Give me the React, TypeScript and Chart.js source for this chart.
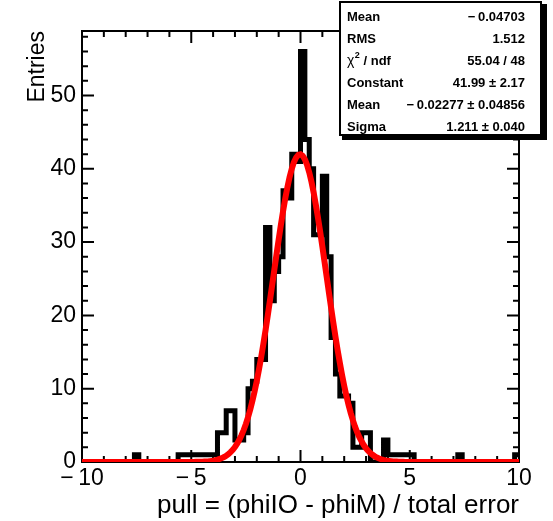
import React, { useEffect, useRef } from 'react';
import { Chart, registerables } from 'chart.js';

Chart.register(...registerables);

// ---- Histogram definition (100 bins of 0.2 from -10 to 10) ----
const X_MIN = -10;
const X_MAX = 10;
const BIN_WIDTH = 0.2;
const binCounts: number[] = [
  0, 0, 0, 0, 0, 0, 0, 0, 0, 0, // -10.0 .. -8.2
  0, 0, 1, 0, 0, 0, 0, 0, 0, 0, //  -8.0 .. -6.2
  0, 0, 1, 1, 1, 1, 1, 1, 1, 1, //  -6.0 .. -4.2
  1, 4, 4, 7, 7, 3, 3, 4, 10, 11, // -4.0 .. -2.2
  14, 14, 32, 22, 26, 28, 37, 36, 42, 41, // -2.0 .. -0.2
  56, 44, 40, 31, 31, 39, 28, 17, 12, 9, //  0.0 ..  1.8
  9, 8, 2, 2, 4, 4, 0, 0, 0, 3, //  2.0 ..  3.8
  1, 1, 1, 1, 1, 1, 0, 0, 0, 0, //  4.0 ..  5.8
  0, 0, 0, 0, 0, 0, 1, 0, 0, 0, //  6.0 ..  7.8
  0, 0, 0, 0, 0, 0, 0, 0, 0, 1, //  8.0 ..  9.8
];

// ---- Gaussian fit parameters (from the stats box) ----
const fitConstant = 41.99;
const fitMean = -0.02277;
const fitSigma = 1.211;
const fitSamples = 200;

// ---- Axes ----
const xMajorTicks = [-10, -5, 0, 5, 10];
const xMinorStep = 1;
const yMajorTicks = [0, 10, 20, 30, 40, 50];
const yMinorStep = 2;
const Y_MAX = 58.8;

const xTitle = 'pull = (phiIO - phiM) / total error';
const yTitle = 'Entries';

// ---- Stats box ----
const statNames = ['Mean', 'RMS', 'CHI', 'Constant', 'Mean', 'Sigma'];
const statValues = [
  '\u2212\u20090.04703',
  '1.512',
  '55.04 / 48',
  '41.99 \u00b1 2.17',
  '\u2212\u20090.02277 \u00b1 0.04856',
  '1.211 \u00b1 0.040',
];

const FONT = '"Liberation Sans", Arial, Helvetica, sans-serif';

const fmt = (v: number) => (v < 0 ? '\u2212\u2009' + Math.abs(v) : String(v));

const framePlugin = {
  id: 'rootFrame',
  beforeDatasetsDraw(chart: any) {
    const { ctx, chartArea, scales } = chart;
    const { left, right, top, bottom } = chartArea;
    const xs = scales.x;
    const ys = scales.y;
    ctx.save();
    ctx.strokeStyle = '#000';
    ctx.lineWidth = 2;
    ctx.strokeRect(left, top, right - left, bottom - top);
    ctx.beginPath();
    for (let v = X_MIN; v <= X_MAX + 1e-9; v += xMinorStep) {
      const px = xs.getPixelForValue(v);
      const len = xMajorTicks.includes(Math.round(v)) ? 12 : 6;
      ctx.moveTo(px, bottom);
      ctx.lineTo(px, bottom - len);
      ctx.moveTo(px, top);
      ctx.lineTo(px, top + len);
    }
    for (let v = 0; v <= Y_MAX + 1e-9; v += yMinorStep) {
      const py = ys.getPixelForValue(v);
      const len = yMajorTicks.includes(Math.round(v)) ? 12 : 6;
      ctx.moveTo(left, py);
      ctx.lineTo(left + len, py);
      ctx.moveTo(right, py);
      ctx.lineTo(right - len, py);
    }
    ctx.stroke();
    ctx.restore();
  },
};

const statsPlugin = {
  id: 'statsBox',
  afterDraw(chart: any) {
    const { ctx } = chart;
    ctx.save();
    ctx.fillStyle = '#000';
    ctx.fillRect(342, 4, 205, 136);
    ctx.fillStyle = '#fff';
    ctx.fillRect(339, 1, 203, 135);
    ctx.strokeStyle = '#000';
    ctx.lineWidth = 2;
    ctx.strokeRect(340, 2, 201, 133);
    ctx.fillStyle = '#000';
    ctx.textBaseline = 'middle';
    const x0 = 347;
    const x1 = 525;
    for (let i = 0; i < statNames.length; i++) {
      const y = 17 + i * 22;
      ctx.textAlign = 'left';
      if (statNames[i] === 'CHI') {
        ctx.font = `14px ${FONT}`;
        ctx.fillText('\u03c7', x0, y);
        const w = ctx.measureText('\u03c7').width;
        ctx.font = `bold 9px ${FONT}`;
        ctx.fillText('2', x0 + w + 0.5, y - 5);
        const w2 = ctx.measureText('2').width;
        ctx.font = `bold 13px ${FONT}`;
        ctx.fillText(' / ndf', x0 + w + w2 + 0.5, y);
      } else {
        ctx.font = `bold 13px ${FONT}`;
        ctx.fillText(statNames[i], x0, y);
      }
      ctx.font = `bold 13px ${FONT}`;
      ctx.textAlign = 'right';
      ctx.fillText(statValues[i], x1, y);
    }
    ctx.restore();
  },
};

export default function App() {
  const canvasRef = useRef<HTMLCanvasElement | null>(null);

  useEffect(() => {
    document.body.style.margin = '0';
    const canvas = canvasRef.current;
    if (!canvas) return;

    const histPoints = binCounts.map((c, i) => ({ x: X_MIN + i * BIN_WIDTH, y: c }));
    histPoints.push({ x: X_MAX, y: binCounts[binCounts.length - 1] });

    const fitPoints: { x: number; y: number }[] = [];
    for (let i = 0; i <= fitSamples; i++) {
      const x = X_MIN + ((X_MAX - X_MIN) * i) / fitSamples;
      const z = (x - fitMean) / fitSigma;
      fitPoints.push({ x, y: fitConstant * Math.exp(-0.5 * z * z) });
    }

    const chart = new Chart(canvas, {
      type: 'line',
      data: {
        datasets: [
          {
            label: 'fit',
            data: fitPoints,
            borderColor: '#ff0000',
            borderWidth: 6,
            pointRadius: 0,
            tension: 0,
            fill: false,
            order: 0,
          },
          {
            label: 'hist',
            data: histPoints,
            borderColor: '#000000',
            borderWidth: 5,
            pointRadius: 0,
            stepped: 'before',
            fill: false,
            borderJoinStyle: 'miter',
            order: 1,
          },
        ],
      },
      options: {
        animation: false,
        responsive: false,
        devicePixelRatio: 1,
        layout: { padding: { left: 0, right: 34, top: 31, bottom: 0 } },
        plugins: { legend: { display: false }, tooltip: { enabled: false }, title: { display: false } },
        scales: {
          x: {
            type: 'linear',
            min: X_MIN,
            max: X_MAX,
            grid: { display: false, drawTicks: false },
            border: { display: false },
            ticks: {
              font: { family: FONT, size: 23 },
              color: '#000',
              padding: 3,
              maxRotation: 0,
              autoSkip: false,
              callback: (v: any) => fmt(Number(v)),
            },
            afterBuildTicks: (s: any) => {
              s.ticks = xMajorTicks.map((v) => ({ value: v }));
            },
            afterFit: (s: any) => {
              s.height = 59;
            },
            title: {
              display: true,
              text: xTitle,
              align: 'end',
              color: '#000',
              font: { family: FONT, size: 26 },
              padding: { top: 0, bottom: 0 },
            },
          },
          y: {
            type: 'linear',
            min: 0,
            max: Y_MAX,
            grid: { display: false, drawTicks: false },
            border: { display: false },
            ticks: {
              font: { family: FONT, size: 23 },
              color: '#000',
              padding: 6,
              autoSkip: false,
              callback: (v: any) => fmt(Number(v)),
            },
            afterBuildTicks: (s: any) => {
              s.ticks = yMajorTicks.map((v) => ({ value: v }));
            },
            afterFit: (s: any) => {
              s.width = 82;
            },
            title: {
              display: true,
              text: yTitle,
              align: 'end',
              color: '#000',
              font: { family: FONT, size: 23 },
              padding: { top: 24, bottom: 0 },
            },
          },
        },
      },
      plugins: [framePlugin, statsPlugin],
    } as any);

    return () => chart.destroy();
  }, []);

  return (
    <div style={{ width: 553, height: 521 }}>
      <canvas ref={canvasRef} width={553} height={521} style={{ display: 'block' }} />
    </div>
  );
}
